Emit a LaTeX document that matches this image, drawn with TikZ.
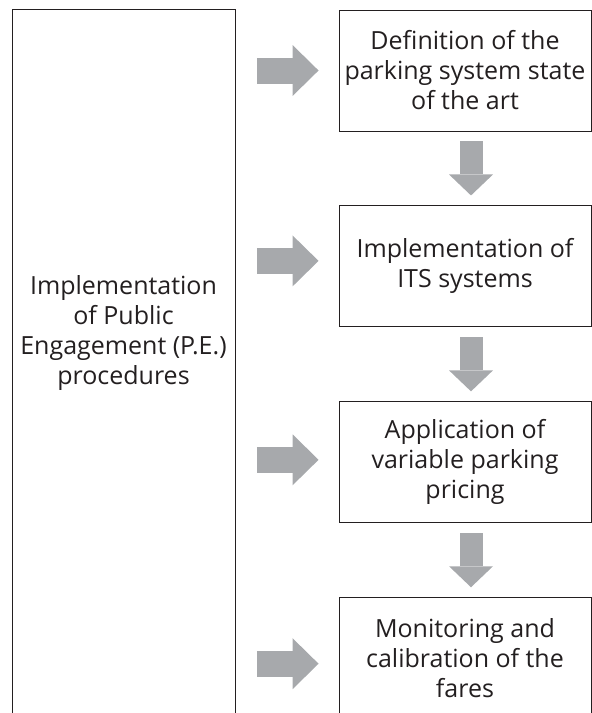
\documentclass[tikz,border=0pt]{standalone}
\usepackage{fontspec}
\setmainfont{Open Sans}
\usetikzlibrary{positioning, arrows.meta, calc}

\definecolor{arrowgray}{HTML}{A7A9AC}
\definecolor{inkgray}{HTML}{231F20}

\tikzset{
  frame/.style={draw=inkgray, line width=0.9pt, inner sep=0pt},
  stage/.style={frame, minimum width=252pt, minimum height=121pt, align=center, text=inkgray},
  hfat/.style={line width=26pt, draw=arrowgray,
    -{Triangle[length=26pt, width=51pt, line width=0pt]},
    shorten <=21pt, shorten >=20pt},
  vfat/.style={line width=23pt, draw=arrowgray,
    -{Triangle[length=21pt, width=44pt, line width=0pt]},
    shorten <=10pt, shorten >=10pt}
}

\begin{document}
\begin{tikzpicture}[x=1pt, y=-1pt, node distance=74pt,
    font=\fontsize{25}{30}\selectfont]
  \path[use as bounding box, clip] (0,0) rectangle (592,713);
  % left frame, its bottom runs off the page
  \node[frame, minimum width=223pt, minimum height=780pt, anchor=north west] (pebox) at (12,9) {};
  \node[align=center, text=inkgray] (pe) at (123.5,333)
    {Implementation\\of Public\\Engagement (P.E.)\\procedures};
  \node[stage] (def) at (465,70.5) {Definition of the\\parking system state\\of the art};
  \node[stage, below=of def] (its) {Implementation of\\ITS systems};
  \node[stage, below=of its] (price) {Application of\\variable parking\\pricing};
  \node[stage, below=of price] (fares) {Monitoring and\\calibration of the\\fares};
  % arrows from the P.E. frame to each stage
  \draw[hfat] (pebox.east |- def.west) -- (def.west);
  \draw[hfat] ($(pebox.east |- its.west)+(0,-5.5)$) -- ($(its.west)+(0,-5.5)$);
  \draw[hfat] ($(pebox.east |- price.west)+(0,-2.5)$) -- ($(price.west)+(0,-2.5)$);
  \draw[hfat] ($(pebox.east |- fares.west)+(0,5.5)$) -- ($(fares.west)+(0,5.5)$);
  % arrows between the stages
  \draw[vfat] ([xshift=6pt]def.south) -- ([xshift=6pt]its.north);
  \draw[vfat] ([xshift=6pt]its.south) -- ([xshift=6pt]price.north);
  \draw[vfat] ([xshift=6pt]price.south) -- ([xshift=6pt]fares.north);
\end{tikzpicture}
\end{document}
